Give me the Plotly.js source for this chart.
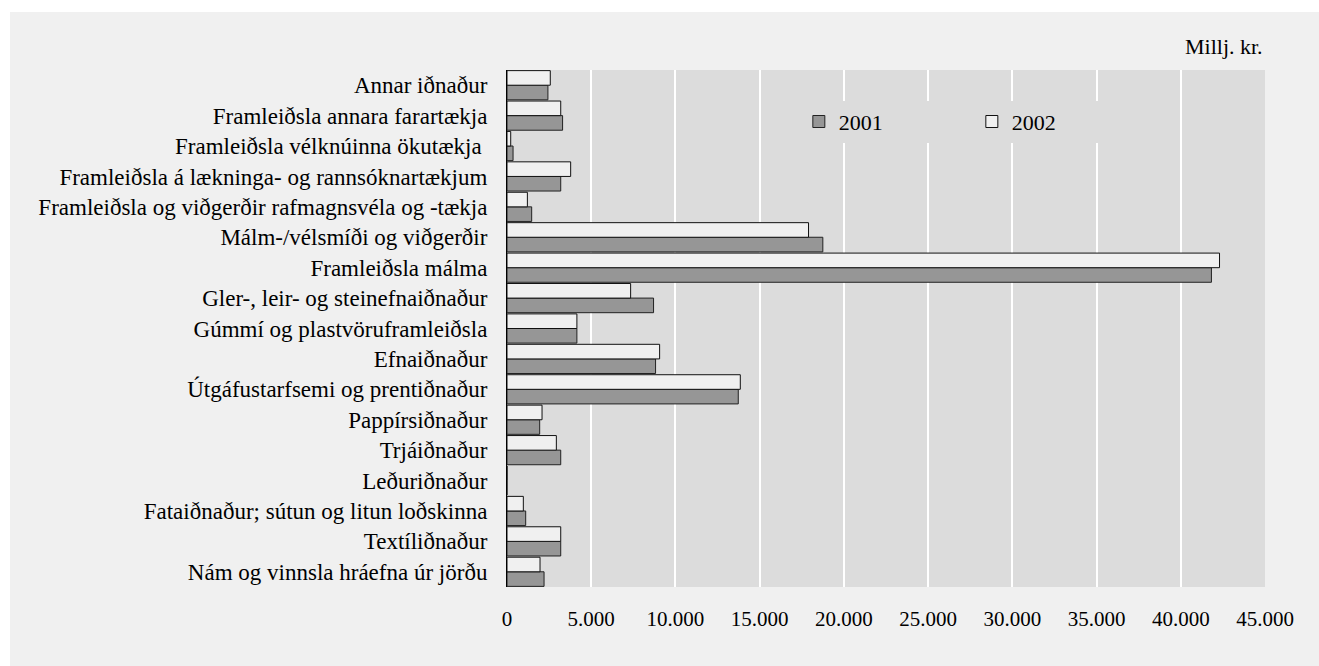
<!DOCTYPE html>
<html><head><meta charset="utf-8">
<script src="https://cdn.plot.ly/plotly-3.0.1.min.js"></script>
<style>
html,body{margin:0;padding:0;background:#ffffff;}
#chart{position:absolute;left:10px;top:12px;width:1309px;height:654px;}
</style></head>
<body><div id="chart"></div>
<script>
// categories listed bottom to top
const categories = [
  "Nám og vinnsla hráefna úr jörðu",
  "Textíliðnaður",
  "Fataiðnaður; sútun og litun loðskinna",
  "Leðuriðnaður",
  "Trjáiðnaður",
  "Pappírsiðnaður",
  "Útgáfustarfsemi og prentiðnaður",
  "Efnaiðnaður",
  "Gúmmí og plastvöruframleiðsla",
  "Gler-, leir- og steinefnaiðnaður",
  "Framleiðsla málma",
  "Málm-/vélsmíði og viðgerðir",
  "Framleiðsla og viðgerðir rafmagnsvéla og -tækja",
  "Framleiðsla á lækninga- og rannsóknartækjum",
  "Framleiðsla vélknúinna ökutækja ",
  "Framleiðsla annara farartækja",
  "Annar iðnaður"
];
const values2001 = [2200, 3190, 1110, 0, 3190, 1940, 13730, 8820, 4150, 8700, 41820, 18750, 1465, 3190, 360, 3300, 2430];
const values2002 = [1960, 3190, 970, 0, 2930, 2080, 13850, 9060, 4150, 7340, 42300, 17900, 1210, 3780, 220, 3190, 2570];
const tickVals = [0, 5000, 10000, 15000, 20000, 25000, 30000, 35000, 40000, 45000];
const tickText = ["0", "5.000", "10.000", "15.000", "20.000", "25.000", "30.000", "35.000", "40.000", "45.000"];
const unitLabel = "Millj. kr.";

const FAM = "'Liberation Serif', 'Times New Roman', Times, serif";
const font = {family: FAM, size: 21, color: "#000"};

const data = [
  {type: "bar", orientation: "h", name: "2001", y: categories, x: values2001,
   marker: {color: "#969696", line: {color: "#222", width: 1}}},
  {type: "bar", orientation: "h", name: "2002", y: categories, x: values2002,
   marker: {color: "#f0f0f0", line: {color: "#111", width: 1}}}
];

const layout = {
  width: 1309, height: 654,
  paper_bgcolor: "#f0f0f0", plot_bgcolor: "#dcdcdc",
  font: font,
  margin: {l: 497, r: 54, t: 58, b: 79},
  barmode: "group", bargap: 0.04, bargroupgap: 0,
  showlegend: true,
  legend: {orientation: "h", x: 0.385, y: 0.90, xanchor: "left", yanchor: "middle",
           bgcolor: "#dcdcdc", font: {family: FAM, size: 22}, entrywidth: 128, entrywidthmode: "pixels",
           traceorder: "normal", itemwidth: 30},
  xaxis: {range: [0, 45000], tickvals: tickVals, ticktext: tickText, showgrid: true,
          gridcolor: "#ffffff", gridwidth: 2, zeroline: false, showline: false, ticks: "",
          ticklabelstandoff: 17, tickfont: {family: FAM, size: 21}, fixedrange: true},
  yaxis: {type: "category", showline: true, linecolor: "#000", linewidth: 1, showgrid: false,
          ticks: "", ticklabelstandoff: 14, tickfont: {family: FAM, size: 23}, automargin: false},
  annotations: [{text: unitLabel, xref: "paper", yref: "paper", x: 1, y: 1, xanchor: "right", yanchor: "bottom",
                 yshift: 9, showarrow: false, font: {family: FAM, size: 22}}]
};

Plotly.newPlot("chart", data, layout, {displayModeBar: false, staticPlot: true});
</script></body></html>
